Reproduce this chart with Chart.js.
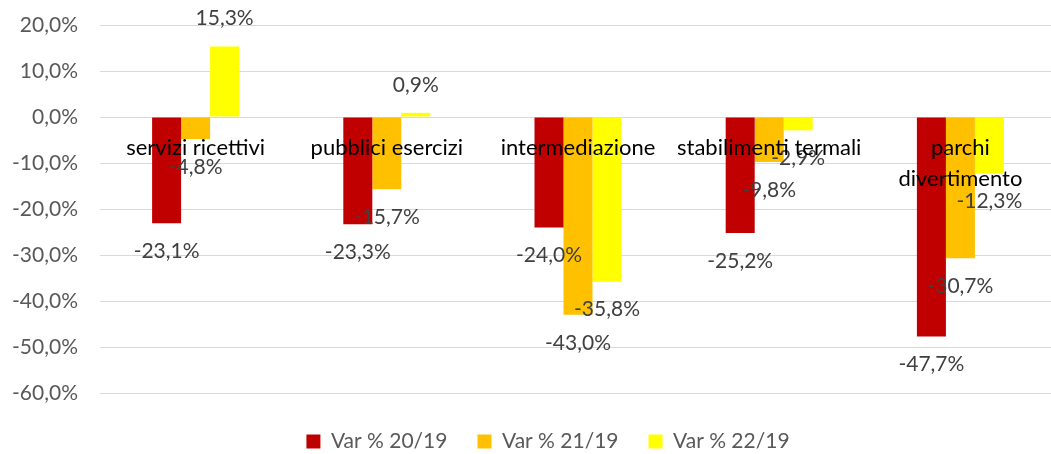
<!DOCTYPE html>
<html><head><meta charset="utf-8">
<script src="https://cdn.jsdelivr.net/npm/chart.js@4.4.1/dist/chart.umd.min.js"></script>
<style>html,body{margin:0;padding:0;background:#fff;overflow:hidden}#wrap{width:1056px;height:454px}</style>
</head><body><div id="wrap"><canvas id="c" width="1056" height="454"></canvas></div>
<script>
const categories = ["servizi ricettivi", "pubblici esercizi", "intermediazione", "stabilimenti termali", ["parchi", "divertimento"]];
const seriesNames = ["Var % 20/19", "Var % 21/19", "Var % 22/19"];
const var2019 = [-23.1, -23.3, -24.0, -25.2, -47.7];
const var2119 = [-4.8, -15.7, -43.0, -9.8, -30.7];
const var2219 = [15.3, 0.9, -35.8, -2.9, -12.3];
const yTicks = [20, 10, 0, -10, -20, -30, -40, -50, -60];
const seriesColors = ["#C00000", "#FFC000", "#FFFF00"];

const FONT = "Lato";
const fmt = v => v.toFixed(1).replace('.', ',') + '%';

const valueLabels = {
  id: 'valueLabels',
  afterDatasetsDraw(chart) {
    const ctx = chart.ctx;
    ctx.save();
    ctx.font = '21px ' + FONT;
    ctx.fillStyle = '#404040';
    ctx.textAlign = 'center';
    ctx.textBaseline = 'middle';
    chart.data.datasets.forEach((ds, i) => {
      const meta = chart.getDatasetMeta(i);
      meta.data.forEach((bar, j) => {
        const v = ds.data[j];
        const y = bar.y + (v < 0 ? 28 : -28);
        ctx.fillText(fmt(v), bar.x, y);
      });
    });
    ctx.restore();
  }
};

const legendShift = {
  id: 'legendShift',
  afterLayout(chart) {
    const lg = chart.legend;
    if (lg) { lg.top += 8; lg.bottom += 8; lg.left += 20; lg.right += 20; }
  }
};

new Chart(document.getElementById('c'), {
  type: 'bar',
  data: {
    labels: categories,
    datasets: [
      { label: seriesNames[0], data: var2019, backgroundColor: seriesColors[0] },
      { label: seriesNames[1], data: var2119, backgroundColor: seriesColors[1] },
      { label: seriesNames[2], data: var2219, backgroundColor: seriesColors[2] }
    ]
  },
  options: {
    responsive: false,
    animation: false,
    layout: { padding: { top: 25, left: 0, right: 0, bottom: 0 } },
    datasets: { bar: { categoryPercentage: 0.455, barPercentage: 1 } },
    scales: {
      x: {
        position: { y: 0 },
        grid: { display: false, drawTicks: false },
        border: { display: false },
        ticks: { z: 1, color: '#000000', font: { family: FONT, size: 22, lineHeight: 1.4 }, padding: 16, maxRotation: 0, autoSkip: false }
      },
      y: {
        min: -60, max: 20,
        afterFit(s) { s.width = 100; s.paddingTop = 0; s.paddingBottom = 0; },
        afterBuildTicks(s) { s.ticks = yTicks.map(v => ({ value: v })); },
        grid: { color: '#D9D9D9', drawTicks: false, lineWidth: 1 },
        border: { display: false },
        ticks: { color: '#595959', font: { family: FONT, size: 21 }, padding: 22, callback: v => fmt(v) }
      }
    },
    plugins: {
      legend: {
        position: 'bottom',
        maxHeight: 61,
        labels: { color: '#595959', font: { family: FONT, size: 21 }, boxWidth: 14, boxHeight: 14, padding: 30 }
      },
      tooltip: { enabled: false }
    }
  },
  plugins: [valueLabels, legendShift]
});
</script>
</body></html>
